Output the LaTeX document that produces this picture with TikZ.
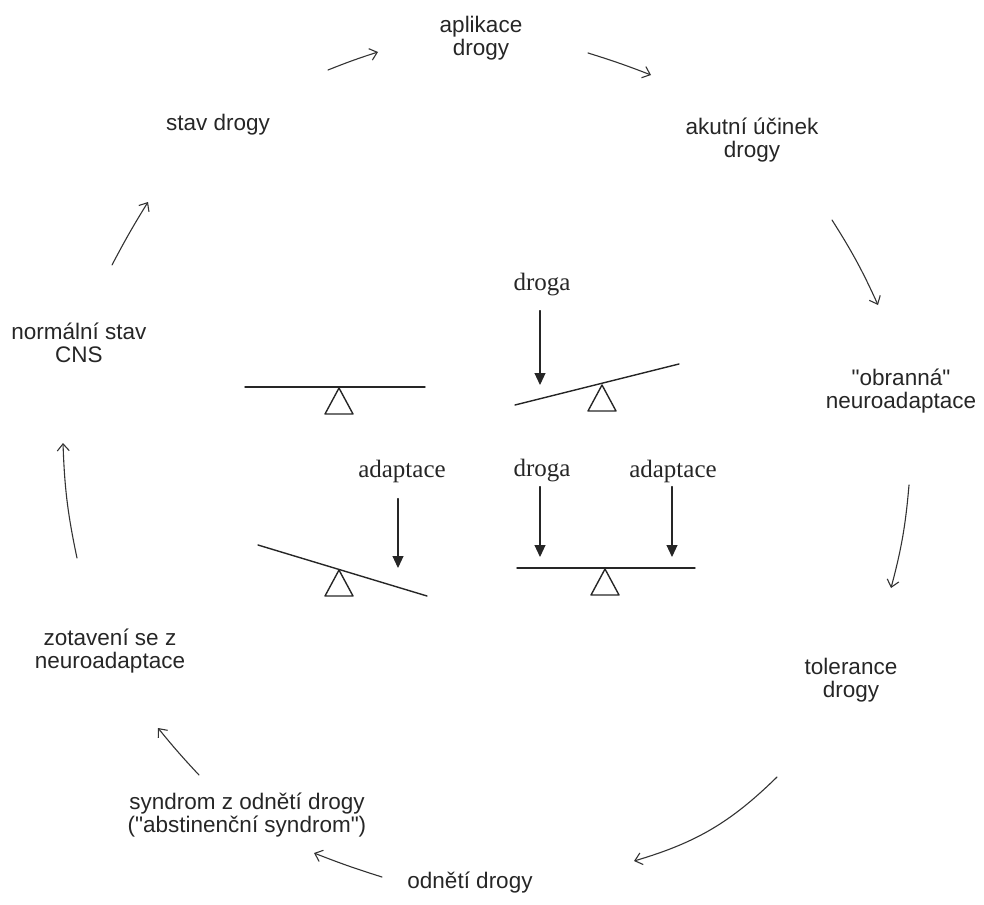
\documentclass[tikz,border=0pt]{standalone}
\usepackage{fontspec}
\setmainfont{Liberation Serif}
\newfontfamily\sansf{Liberation Sans}
\usetikzlibrary{arrows.meta}

\tikzset{
  stage/.style={font=\sansf\fontsize{22.5}{22.5}\selectfont, align=center, inner sep=0pt, text=black!85},
  force/.style={font=\fontsize{25}{25}\selectfont, inner sep=0pt, text=black!85},
  cycle arrow/.style={-{Straight Barb[length=7pt,width=12pt]}, line width=1.1pt, black!80},
  push/.style={-{Triangle[length=12pt,width=11pt]}, line width=1.1pt, black!85},
  beam/.style={line width=1.4pt, black!85},
}

\begin{document}
\begin{tikzpicture}[x=1pt, y=-1pt, line join=round, line cap=round]
  \useasboundingbox (0,0) rectangle (984,904);
  % stages of the cycle
  \node[stage] (aplikace) at (481,38) {aplikace\\drogy};
  \node[stage] (ucinek) at (752,140) {akutní účinek\\drogy};
  \node[stage] (obrana) at (901,391) {"obranná"\\neuroadaptace};
  \node[stage] (tolerance) at (851,680) {tolerance\\drogy};
  \node[stage] (odneti) at (470,883) {odnětí drogy};
  \node[stage] (syndrom) at (247,815) {syndrom z odnětí drogy\\("abstinenční syndrom")};
  \node[stage] (zotaveni) at (110,651) {zotavení se z\\neuroadaptace};
  \node[stage] (normal) at (79,343) {normální stav\\CNS};
  \node[stage] (stav) at (218,125) {stav drogy};
  % arrows between stages
  \coordinate (c1a) at (328,70);  \coordinate (c1b) at (378,52);
  \coordinate (c2a) at (588,53);  \coordinate (c2b) at (651,75);
  \coordinate (c3a) at (832,220); \coordinate (c3b) at (878,305);
  \coordinate (c4a) at (909,485); \coordinate (c4b) at (891,588);
  \coordinate (c5a) at (777,777); \coordinate (c5b) at (634,861);
  \coordinate (c6a) at (382,877); \coordinate (c6b) at (314,853);
  \coordinate (c7a) at (199,775); \coordinate (c7b) at (158,728);
  \coordinate (c8a) at (77,558);  \coordinate (c8b) at (63,443);
  \coordinate (c9a) at (112,265); \coordinate (c9b) at (148,202);
  \foreach \s/\e/\b in {c1a/c1b/2,c2a/c2b/2,c3a/c3b/4,c4a/c4b/5,c5a/c5b/14,
                        c6a/c6b/2,c7a/c7b/2,c8a/c8b/5,c9a/c9b/2}
    \draw[cycle arrow] (\s) to[bend left=\b] (\e);
  % seesaws
  \draw[beam] (245,387) -- (425,387);
  \draw[beam] (515,405) -- (679,364);
  \draw[beam] (258,545) -- (427,596);
  \draw[beam] (517,568) -- (695,568);
  \foreach \p in {(339,388),(602,385),(339,570),(605,569)}
    \draw[beam] \p -- ++(-14,26) -- ++(28,0) -- cycle;
  % forces on the seesaws
  \node[force] (droga1) at (542,285) {droga};
  \node[force] (adapt1) at (402,471) {adaptace};
  \node[force] (droga2) at (542,471) {droga};
  \node[force] (adapt2) at (673,471) {adaptace};
  \coordinate (t1) at (540,385);
  \coordinate (t2) at (398,568);
  \coordinate (t3) at (540,557);
  \coordinate (t4) at (672,557);
  \draw[push, shorten <=14pt] (droga1.south -| t1) -- (t1);
  \draw[push, shorten <=16pt] (adapt1.south -| t2) -- (t2);
  \draw[push, shorten <=4pt] (droga2.south -| t3) -- (t3);
  \draw[push, shorten <=4pt] (adapt2.south -| t4) -- (t4);
\end{tikzpicture}
\end{document}
